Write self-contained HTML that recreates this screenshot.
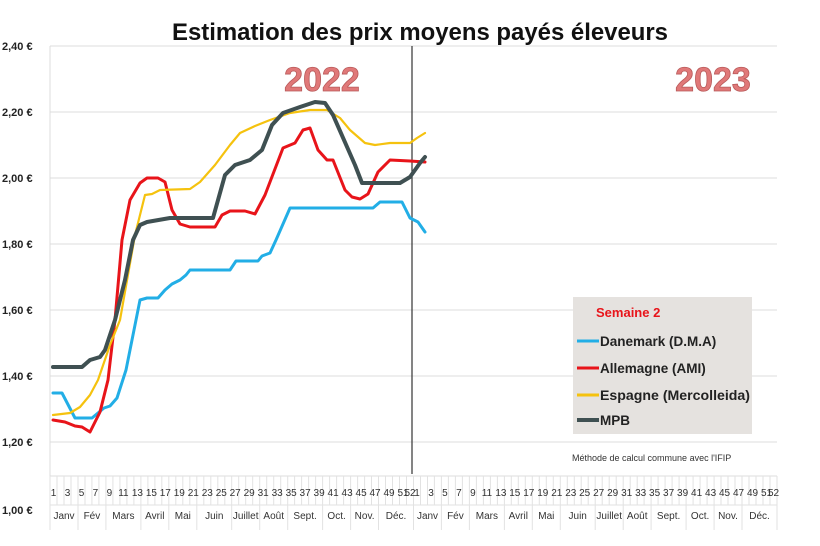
<!DOCTYPE html>
<html><head><meta charset="utf-8"><style>
body{margin:0;background:#fff}
svg{display:block;font-family:"Liberation Sans",sans-serif}
</style></head><body>
<svg id="s" width="820" height="546" viewBox="0 0 820 546" xmlns="http://www.w3.org/2000/svg">
<rect width="820" height="546" fill="#fff"/>
<text x="420" y="40" text-anchor="middle" font-size="24" font-weight="bold" fill="#111" textLength="496" lengthAdjust="spacingAndGlyphs">Estimation des prix moyens payés éleveurs</text>
<g stroke="#dcdcdc" stroke-width="1">
<line x1="50" y1="46" x2="777" y2="46"/><line x1="50" y1="112" x2="777" y2="112"/>
<line x1="50" y1="178" x2="777" y2="178"/><line x1="50" y1="244" x2="777" y2="244"/>
<line x1="50" y1="310" x2="777" y2="310"/><line x1="50" y1="376" x2="777" y2="376"/>
<line x1="50" y1="442" x2="777" y2="442"/><line x1="50" y1="476" x2="777" y2="476"/>
<line x1="50" y1="46" x2="50" y2="476"/>
</g>
<g font-size="11" font-weight="bold" fill="#222">
<text x="2" y="50">2,40 €</text><text x="2" y="116">2,20 €</text><text x="2" y="182">2,00 €</text>
<text x="2" y="248">1,80 €</text><text x="2" y="314">1,60 €</text><text x="2" y="380">1,40 €</text>
<text x="2" y="446">1,20 €</text><text x="2" y="514">1,00 €</text>
</g>
<g font-size="34" font-weight="bold" fill="#e07878" stroke="#b85a5a" stroke-width="0.8">
<text x="322" y="91" text-anchor="middle">2022</text>
<text x="713" y="91" text-anchor="middle">2023</text>
</g>
<g id="ax"></g>
<line x1="412" y1="46" x2="412" y2="474" stroke="#333" stroke-width="1.2"/>
<g fill="none" stroke-linejoin="round" stroke-linecap="round">
<polyline stroke="#22aee6" stroke-width="3" points="53,393 62,393 75,418 92,418 104,408 110,406 117,398 126,370 140,300 147,298 158,298 165,290 172,284 180,280 186,275 190,270 230,270 236,261 258,261 262,256 270,253 276,240 290,208 373,208 380,202 402,202 410,218 418,222 425,232"/>
<polyline stroke="#e8141a" stroke-width="3" points="53,420 65,422 75,426 82,427 90,432 100,412 108,380 115,320 122,240 130,200 140,183 147,178 158,178 165,182 172,210 180,224 190,227 215,227 222,215 230,211 245,211 255,214 265,195 283,148 295,143 303,130 310,128 318,150 327,160 333,160 345,190 352,197 360,199 368,194 378,172 390,160 410,161 425,162"/>
<polyline stroke="#f5c20e" stroke-width="2.2" points="53,415 70,413 80,407 90,395 98,380 110,345 120,320 135,235 145,195 152,194 160,190 190,189 200,182 215,165 230,145 240,133 255,126 270,120 290,113 310,110 327,110 340,118 350,130 365,143 375,145 390,143 410,143 417,138 425,133"/>
<polyline stroke="#3f5052" stroke-width="4" points="53,367 82,367 90,360 100,357 105,350 115,320 125,280 133,240 140,225 147,222 170,218 213,218 225,175 235,165 250,160 262,150 272,125 283,113 300,107 315,102 325,103 333,115 355,165 362,183 400,183 410,177 420,163 425,157"/>
</g>
<rect x="573" y="297" width="179" height="137" fill="#e5e2df"/>
<text x="596" y="317" font-size="13" font-weight="bold" fill="#e8141a">Semaine 2</text>
<g font-size="13.5" font-weight="bold" fill="#222">
<line x1="577" y1="341" x2="599" y2="341" stroke="#22aee6" stroke-width="3"/><text x="600" y="346">Danemark (D.M.A)</text>
<line x1="577" y1="368" x2="599" y2="368" stroke="#e8141a" stroke-width="3"/><text x="600" y="373">Allemagne (AMI)</text>
<line x1="577" y1="395" x2="599" y2="395" stroke="#f5c20e" stroke-width="3"/><text x="600" y="400" textLength="150" lengthAdjust="spacingAndGlyphs">Espagne (Mercolleida)</text>
<line x1="577" y1="420" x2="599" y2="420" stroke="#3f5052" stroke-width="4"/><text x="600" y="425">MPB</text>
</g>
<text x="572" y="461" font-size="9" fill="#333">Méthode de calcul commune avec l'IFIP</text>
</svg>
<script>
(function(){
var g=document.getElementById('ax'),w=6.99,x0=50,h="";
for(var k=0;k<=104;k++){var x=(x0+k*w).toFixed(1);h+='<line x1="'+x+'" y1="476" x2="'+x+'" y2="505" stroke="#e2e2e2"/>';}
for(var i=1;i<=104;i++){var n=i<=52?i:i-52;if(n%2==0&&n!=52)continue;var cx=(x0+(i-0.5)*w).toFixed(1);
h+='<text x="'+cx+'" y="496" font-size="10" fill="#333" text-anchor="middle">'+n+'</text>';}
var m=[["Janv",1,4],["Fév",5,8],["Mars",9,13],["Avril",14,17],["Mai",18,21],["Juin",22,26],["Juillet",27,30],["Août",31,34],["Sept.",35,39],["Oct.",40,43],["Nov.",44,47],["Déc.",48,52]];
for(var y=0;y<2;y++){m.forEach(function(a){var s=a[1]+y*52,e=a[2]+y*52;var xs=x0+(s-1)*w,xe=x0+e*w;
h+='<line x1="'+xs.toFixed(1)+'" y1="505" x2="'+xs.toFixed(1)+'" y2="530" stroke="#e2e2e2"/>';
h+='<text x="'+((xs+xe)/2).toFixed(1)+'" y="519" font-size="10" fill="#333" text-anchor="middle">'+a[0]+'</text>';});}
h+='<line x1="'+(x0+104*w).toFixed(1)+'" y1="505" x2="'+(x0+104*w).toFixed(1)+'" y2="530" stroke="#e2e2e2"/>';
h+='<line x1="50" y1="505" x2="777" y2="505" stroke="#e2e2e2"/>';
g.innerHTML=h;})();
</script>
</body></html>
